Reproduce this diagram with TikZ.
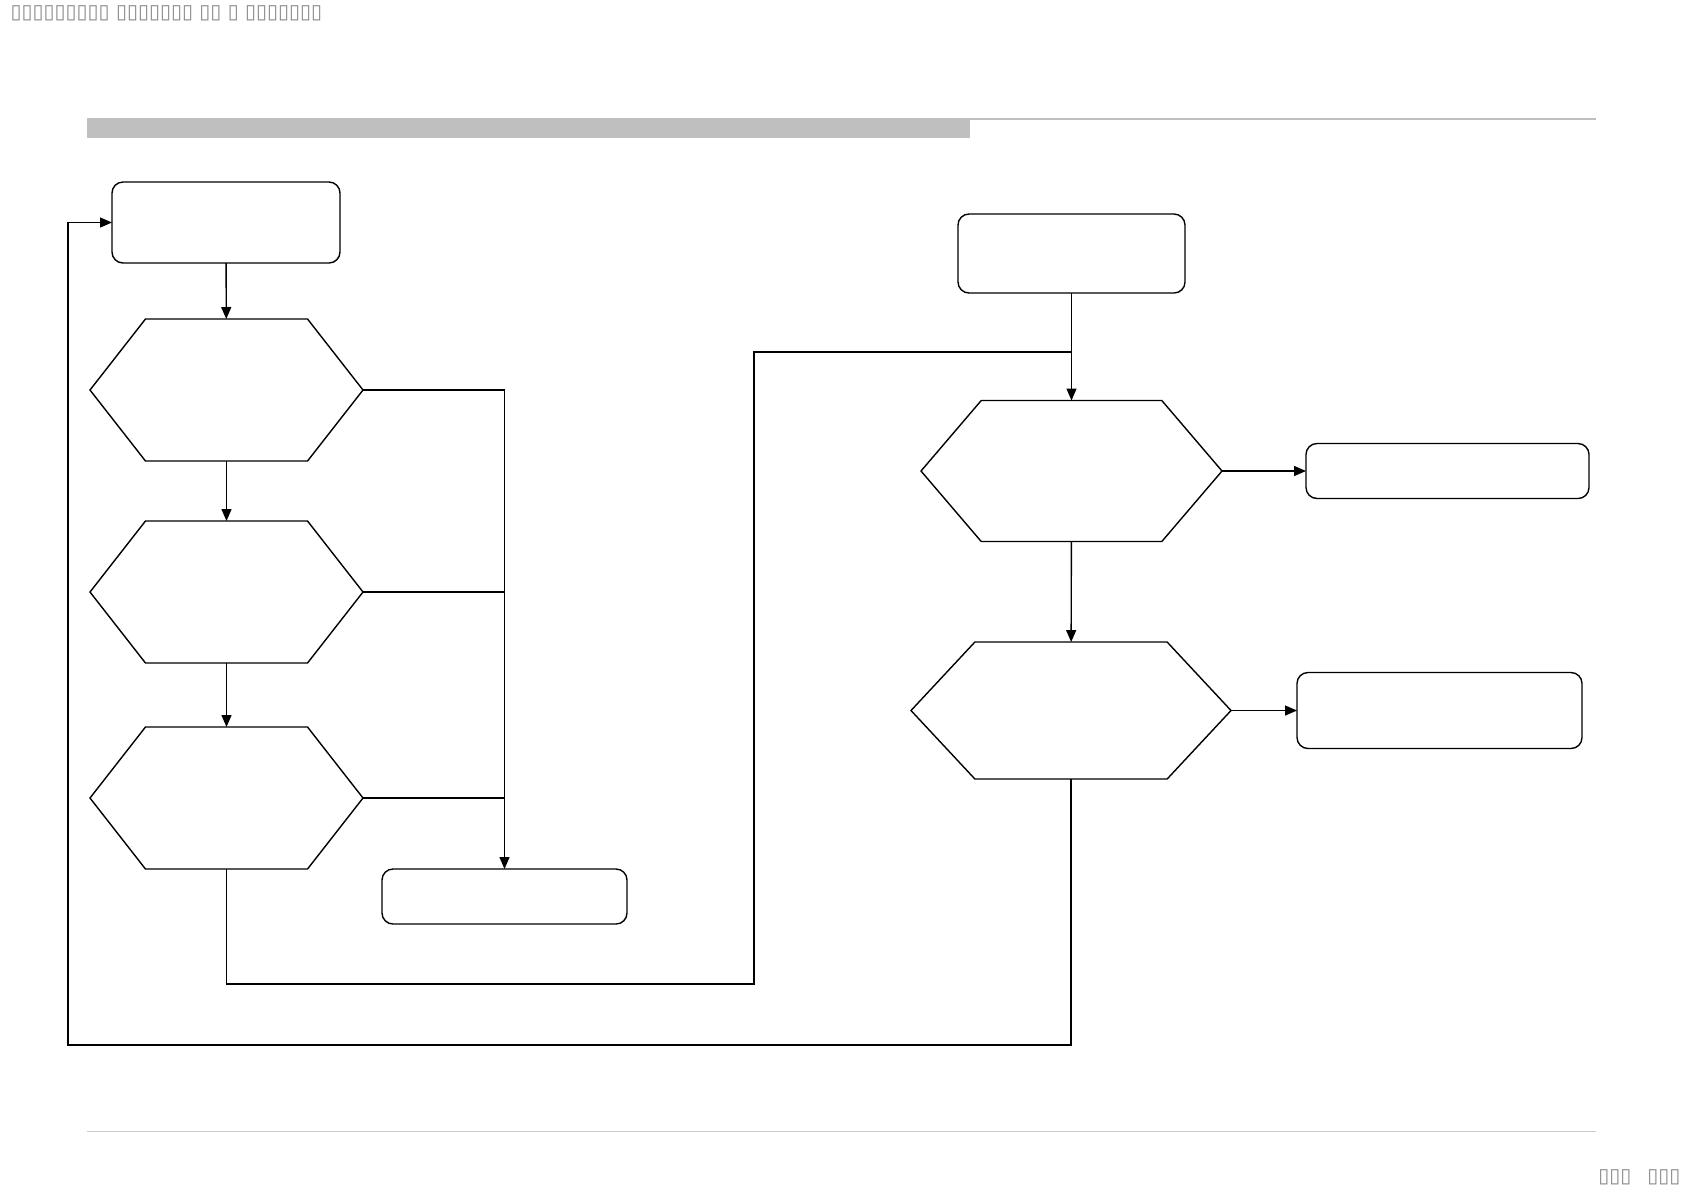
\documentclass[tikz,border=0pt]{standalone}
\usepackage{fontspec}
\newfontfamily\boxfont{DejaVu Sans}
\usepackage{tikz}
\usetikzlibrary{arrows.meta,shapes.symbols}

\begin{document}
\begin{tikzpicture}[x=0.5pt,y=-0.5pt,
    line width=0.7pt,
    >={Triangle[length=6pt,width=5pt]},
    box/.style={draw, rounded corners=5.5pt, inner sep=0pt, outer sep=0pt},
    hexa/.style={draw, signal, signal to=west and east, inner sep=0pt, outer sep=0pt},
    tofu/.style={font=\boxfont\fontsize{10}{12}\selectfont, text=black!45, inner sep=0pt}]
    \useasboundingbox (0,0) rectangle (1684,1191);

    % Header and footer
    \node[tofu, anchor=west] (title) at (10,13) {▯▯▯▯▯▯▯▯▯ ▯▯▯▯▯▯▯ ▯▯ ▯ ▯▯▯▯▯▯▯};
    \node[tofu, anchor=east] (pageno) at (1681,1177) {▯▯▯\hspace{8pt}▯▯▯};
    \fill[black!25] (87,118) rectangle (970,138);
    \draw[black!25, line width=1pt] (970,119) -- (1596,119);
    \draw[black!20, line width=0.5pt] (87,1131) -- (1596,1131);

    % Left column
    \node[box, minimum width=114pt, minimum height=40.5pt] (start) at (226,222.5) {};
    \node[hexa, signal pointer angle=104, minimum width=136.5pt, minimum height=71pt] (checkA) at (226.5,390) {};
    \node[hexa, signal pointer angle=104, minimum width=136.5pt, minimum height=71pt] (checkB) at (226.5,592) {};
    \node[hexa, signal pointer angle=104, minimum width=136.5pt, minimum height=71pt] (checkC) at (226.5,798) {};
    \node[box, minimum width=122.5pt, minimum height=27.5pt] (fail) at (504.5,896.5) {};

    % Right column
    \node[box, minimum width=113.5pt, minimum height=39.5pt] (entry) at (1071.5,253.5) {};
    \node[hexa, signal pointer angle=99, minimum width=150.5pt, minimum height=70.5pt] (checkD) at (1071.5,471) {};
    \node[hexa, signal pointer angle=94, minimum width=160pt, minimum height=68.5pt] (checkE) at (1071,710.5) {};
    \node[box, minimum width=141.5pt, minimum height=27.5pt] (outD) at (1447.5,471) {};
    \node[box, minimum width=142.5pt, minimum height=38pt] (outE) at (1439.5,710.5) {};

    % Turning points
    \coordinate (lowturn) at (754,984);
    \coordinate (midjoin) at (1071.5,352);
    \coordinate (loopturn) at (68,1045);

    % Flow on the left
    \draw[->] (start) -- (checkA);
    \draw[->] (checkA) -- (checkB);
    \draw[->] (checkB) -- (checkC);
    \draw[->] (checkA.east) -| (fail.north);
    \draw (checkB.east) -- (checkB.east -| fail.north);
    \draw (checkC.east) -- (checkC.east -| fail.north);
    \draw (checkC.south) |- (lowturn) |- (midjoin);

    % Flow on the right
    \draw[->] (entry) -- (checkD);
    \draw[->] (checkD) -- (outD);
    \draw[->] (checkD) -- (checkE);
    \draw[->] (checkE) -- (outE);
    \draw[->] (checkE.south) |- (loopturn) |- (start.west);
\end{tikzpicture}
\end{document}
